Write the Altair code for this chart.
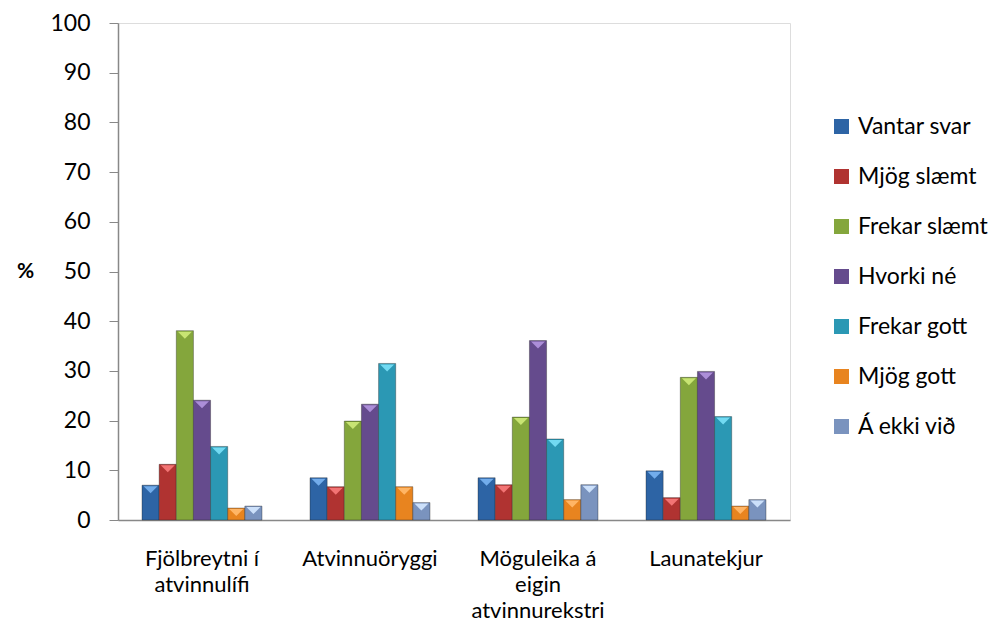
import altair as alt
import pandas as pd

categories = ["Fjölbreytni í atvinnulífi", "Atvinnuöryggi", "Möguleika á eigin atvinnurekstri", "Launatekjur"]
category_lines = {
    "Fjölbreytni í atvinnulífi": "Fjölbreytni í|atvinnulífi",
    "Atvinnuöryggi": "Atvinnuöryggi",
    "Möguleika á eigin atvinnurekstri": "Möguleika á|eigin|atvinnurekstri",
    "Launatekjur": "Launatekjur",
}
series = ["Vantar svar", "Mjög slæmt", "Frekar slæmt", "Hvorki né", "Frekar gott", "Mjög gott", "Á ekki við"]
values = {
    "Vantar svar":  [7.0, 8.5, 8.5, 9.9],
    "Mjög slæmt":   [11.2, 6.7, 7.1, 4.5],
    "Frekar slæmt": [38.1, 19.9, 20.7, 28.7],
    "Hvorki né":    [24.1, 23.3, 36.1, 29.9],
    "Frekar gott":  [14.8, 31.5, 16.3, 20.8],
    "Mjög gott":    [2.4, 6.7, 4.1, 2.8],
    "Á ekki við":   [2.8, 3.5, 7.1, 4.1],
}
colors = ["#2D64A5", "#B03331", "#84A63C", "#654B8D", "#2B98B4", "#E8841F", "#7A93BE"]
highlight = ["#72ACEB", "#F27474", "#C8E473", "#AC8ED8", "#72DAF2", "#FFB565", "#CCE0FA"]

rows = []
for s in series:
    for c, v in zip(categories, values[s]):
        rows.append({"category": c, "label": category_lines[c], "series": s, "value": v})
df = pd.DataFrame(rows)

FONT = "Lato"
FS = 23
label_order = [category_lines[c] for c in categories]

x_enc = alt.X(
    "label:N",
    sort=label_order,
    title=None,
    scale=alt.Scale(paddingInner=0.286, paddingOuter=0.143),
    axis=alt.Axis(
        labelExpr="split(datum.label, '|')",
        labelAngle=0,
        labelFontSize=22,
        labelFont=FONT,
        labelColor="#000000",
        labelPadding=28,
        labelLineHeight=26,
        labelBaseline="top",
        ticks=False,
        domainColor="#888888",
        domainWidth=1.5,
        grid=False,
    ),
)

y_enc = alt.Y(
    "value:Q",
    scale=alt.Scale(domain=[0, 100]),
    axis=alt.Axis(
        values=list(range(0, 101, 10)),
        title="%",
        titleAngle=0,
        titleFont=FONT,
        titleFontSize=21,
        titleFontWeight="bold",
        titleColor="#000000",
        titleX=-93,
        titleY=248,
        titleAlign="center",
        titleBaseline="middle",
        labelFontSize=FS,
        labelFont=FONT,
        labelColor="#000000",
        labelPadding=19,
        tickSize=9,
        tickColor="#888888",
        domainColor="#888888",
        domainWidth=1.5,
        grid=False,
    ),
)

bars = alt.Chart(df).mark_bar(stroke="#1e1e1e", strokeOpacity=0.35, strokeWidth=1).encode(
    x=x_enc,
    xOffset=alt.XOffset("series:N", sort=series, scale=alt.Scale(paddingInner=0)),
    y=y_enc,
    color=alt.Color(
        "series:N",
        sort=series,
        scale=alt.Scale(domain=series, range=colors),
        legend=alt.Legend(
            title=None,
            orient="none",
            legendX=712,
            legendY=92,
            symbolType="square",
            symbolSize=225,
            symbolStrokeWidth=0,
            labelFontSize=FS,
            labelFont=FONT,
            labelColor="#000000",
            rowPadding=26,
            labelOffset=5,
        ),
    ),
)

tri = alt.Chart(df).mark_point(
    shape="M-1,0 L1,0 L0,1 Z", filled=True, size=196, opacity=1, yOffset=1
).encode(
    x=alt.X("label:N", sort=label_order),
    xOffset=alt.XOffset("series:N", sort=series),
    y=alt.Y("value:Q"),
    fill=alt.Fill("series:N", sort=series, scale=alt.Scale(domain=series, range=highlight), legend=None),
)

chart = alt.layer(bars, tri).resolve_scale(fill="independent", color="independent").properties(
    width=672,
    height=497,
    autosize=alt.AutoSizeParams(type="none"),
    padding={"left": 110, "top": 15, "right": 204, "bottom": 110},
).configure_view(stroke=None).configure(background="#ffffff")

chart.save("out.html", embed_options={"renderer": "svg", "actions": False})
